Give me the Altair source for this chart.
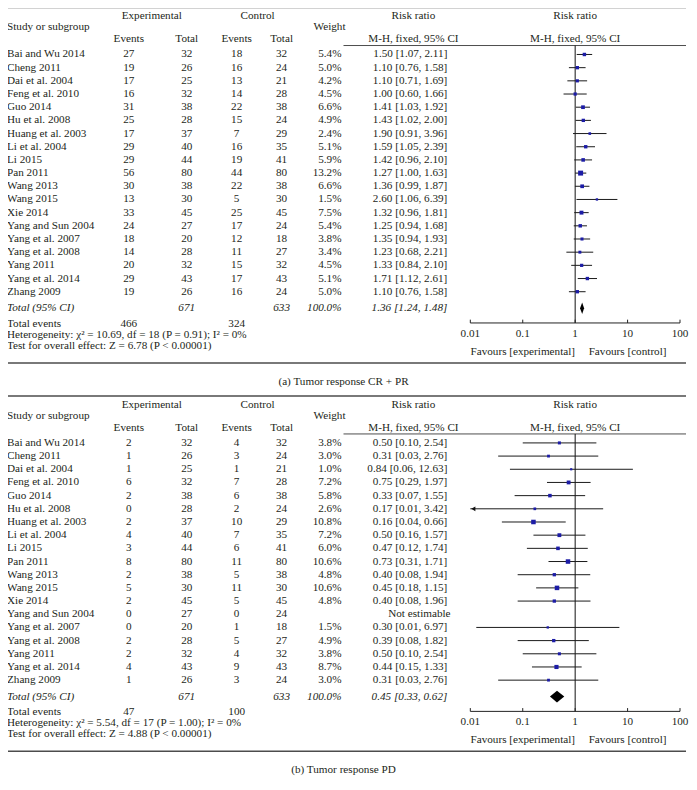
import altair as alt
import pandas as pd

# ---------------- data ----------------
studies = ["Bai and Wu 2014", "Cheng 2011", "Dai et al. 2004", "Feng et al. 2010", "Guo 2014",
           "Hu et al. 2008", "Huang et al. 2003", "Li et al. 2004", "Li 2015", "Pan 2011",
           "Wang 2013", "Wang 2015", "Xie 2014", "Yang and Sun 2004", "Yang et al. 2007",
           "Yang et al. 2008", "Yang 2011", "Yang et al. 2014", "Zhang 2009"]
exp_total = [32, 26, 25, 32, 38, 28, 37, 40, 44, 80, 38, 30, 45, 27, 20, 28, 32, 43, 26]
ctl_total = [32, 24, 21, 28, 38, 24, 29, 35, 41, 80, 38, 30, 45, 24, 18, 27, 32, 43, 24]

# (a) Tumor response CR + PR
exp_events_a = [27, 19, 17, 16, 31, 25, 17, 29, 29, 56, 30, 13, 33, 24, 18, 14, 20, 29, 19]
ctl_events_a = [18, 16, 13, 14, 22, 15, 7, 16, 19, 44, 22, 5, 25, 17, 12, 11, 15, 17, 16]
weight_a = [5.4, 5.0, 4.2, 4.5, 6.6, 4.9, 2.4, 5.1, 5.9, 13.2, 6.6, 1.5, 7.5, 5.4, 3.8, 3.4, 4.5, 5.1, 5.0]
rr_a = [1.50, 1.10, 1.10, 1.00, 1.41, 1.43, 1.90, 1.59, 1.42, 1.27, 1.36, 2.60, 1.32, 1.25, 1.35, 1.23, 1.33, 1.71, 1.10]
lo_a = [1.07, 0.76, 0.71, 0.60, 1.03, 1.02, 0.91, 1.05, 0.96, 1.00, 0.99, 1.06, 0.96, 0.94, 0.94, 0.68, 0.84, 1.12, 0.76]
hi_a = [2.11, 1.58, 1.69, 1.66, 1.92, 2.00, 3.96, 2.39, 2.10, 1.63, 1.87, 6.39, 1.81, 1.68, 1.93, 2.21, 2.10, 2.61, 1.58]
total_a = dict(rr=1.36, lo=1.24, hi=1.48, n_exp=671, n_ctl=633, ev_exp=466, ev_ctl=324)
het_a = "Heterogeneity: χ² = 10.69, df = 18 (P = 0.91); I² = 0%"
test_a = "Test for overall effect: Z = 6.78 (P < 0.00001)"
caption_a = "(a) Tumor response CR + PR"

# (b) Tumor response PD
exp_events_b = [2, 1, 1, 6, 2, 0, 2, 4, 3, 8, 2, 5, 2, 0, 0, 2, 2, 4, 1]
ctl_events_b = [4, 3, 1, 7, 6, 2, 10, 7, 6, 11, 5, 11, 5, 0, 1, 5, 4, 9, 3]
weight_b = [3.8, 3.0, 1.0, 7.2, 5.8, 2.6, 10.8, 7.2, 6.0, 10.6, 4.8, 10.6, 4.8, None, 1.5, 4.9, 3.8, 8.7, 3.0]
rr_b = [0.50, 0.31, 0.84, 0.75, 0.33, 0.17, 0.16, 0.50, 0.47, 0.73, 0.40, 0.45, 0.40, None, 0.30, 0.39, 0.50, 0.44, 0.31]
lo_b = [0.10, 0.034, 0.057, 0.29, 0.07, 0.0087, 0.04, 0.16, 0.12, 0.31, 0.08, 0.18, 0.08, None, 0.013, 0.08, 0.10, 0.15, 0.034]
hi_b = [2.54, 2.76, 12.63, 1.97, 1.55, 3.42, 0.66, 1.57, 1.74, 1.71, 1.94, 1.15, 1.96, None, 6.97, 1.82, 2.54, 1.33, 2.76]
total_b = dict(rr=0.45, lo=0.33, hi=0.62, n_exp=671, n_ctl=633, ev_exp=47, ev_ctl=100)
het_b = "Heterogeneity: χ² = 5.54, df = 17 (P = 1.00); I² = 0%"
test_b = "Test for overall effect: Z = 4.88 (P < 0.00001)"
caption_b = "(b) Tumor response PD"

axis_ticks = [0.01, 0.1, 1, 10, 100]

# ---------------- style / layout ----------------
FONT = "Liberation Serif"
FS = 11.2
TXT = "#231f20"
BLUE = "#1c1ca6"
W, H = 680, 380
yscale = alt.Scale(domain=[-3.56, 25.23], reverse=True, nice=False, zero=False)
xscale = alt.Scale(type="log", domain=[0.01, 100], range=[464, 674], nice=False)

R = dict(top=-3.56, hdr1=-2.9, hdr2=-2.05, hdr3=-1.14, hline=-0.68, total=19.25,
         tot_ev=20.45, het=21.28, test=22.12, axis=20.37, ticklab=21.2, fav=22.57,
         bottom=23.4, caption=24.82)
COL = dict(name=0, ev_e=122, n_e=180, ev_c=230, n_c=275, weight=335, exp_hdr=145,
           ctl_hdr=251, weight_hdr=323, rr_txt=441, rr_hdr=407, caption=337)


def Y(field="row"):
    return alt.Y(f"{field}:Q", scale=yscale, axis=None)


def X(field):
    return alt.X(f"{field}:Q", scale=xscale, axis=None)


def text_layer(df, field, x, align="center", italic=False):
    return alt.Chart(df).mark_text(
        align=align, baseline="middle", font=FONT, fontSize=FS, color=TXT,
        fontStyle="italic" if italic else "normal"
    ).encode(x=alt.value(x), y=Y(), text=f"{field}:N")


def label(text, row, x, align="center", italic=False):
    return text_layer(pd.DataFrame({"t": [text], "row": [row]}), "t", x, align, italic)


def hrule(row, x0, x1, width=1.0, color="#333333"):
    return alt.Chart(pd.DataFrame({"row": [row]})).mark_rule(
        color=color, strokeWidth=width).encode(x=alt.value(x0), x2=alt.value(x1), y=Y())


def fmt_rr(r, l, h):
    if r is None or pd.isna(r):
        return "Not estimable"
    return f"{r:.2f} [{l:.2f}, {h:.2f}]"


def panel(exp_ev, ctl_ev, weight, rr, lo, hi, tot, het, test, caption):
    n = len(studies)
    df = pd.DataFrame({
        "row": list(range(n)), "name": studies,
        "ev_e": [str(v) for v in exp_ev], "n_e": [str(v) for v in exp_total],
        "ev_c": [str(v) for v in ctl_ev], "n_c": [str(v) for v in ctl_total],
        "weight": ["" if w is None else f"{w:.1f}%" for w in weight],
        "rrtxt": [fmt_rr(r, l, h) for r, l, h in zip(rr, lo, hi)],
        "w": weight, "rr": rr, "lo": lo, "hi": hi,
    })
    est = df.dropna(subset=["rr"]).copy()
    est["w"] = est["w"].astype(float)
    est["lo_draw"] = est["lo"].clip(lower=axis_ticks[0])
    arrows = est[est["lo"] < axis_ticks[0]]

    layers = []
    # rules of the table
    layers.append(hrule(R["top"], 0, W, 1.5, "#4d4d4d"))
    layers.append(hrule(R["hline"], 337, W, 1.0, "#4d4d4d"))
    layers.append(hrule(R["bottom"], 0, W, 1.5, "#4d4d4d"))
    # headers
    layers += [
        label("Experimental", R["hdr1"], COL["exp_hdr"]),
        label("Control", R["hdr1"], COL["ctl_hdr"]),
        label("Risk ratio", R["hdr1"], COL["rr_hdr"]),
        label("Study or subgroup", R["hdr2"], COL["name"], "left"),
        label("Weight", R["hdr2"], COL["weight_hdr"]),
        label("Events", R["hdr3"], COL["ev_e"]),
        label("Total", R["hdr3"], COL["n_e"]),
        label("Events", R["hdr3"], COL["ev_c"]),
        label("Total", R["hdr3"], COL["n_c"]),
        label("M-H, fixed, 95% CI", R["hdr3"], COL["rr_hdr"]),
    ]
    hdr_f = pd.DataFrame({"v": [1, 1], "row": [R["hdr1"], R["hdr3"]],
                          "t": ["Risk ratio", "M-H, fixed, 95% CI"]})
    layers.append(alt.Chart(hdr_f).mark_text(baseline="middle", font=FONT, fontSize=FS, color=TXT)
                  .encode(x=X("v"), y=Y(), text="t:N"))
    # study rows
    layers += [
        text_layer(df, "name", COL["name"], "left"),
        text_layer(df, "ev_e", COL["ev_e"]),
        text_layer(df, "n_e", COL["n_e"]),
        text_layer(df, "ev_c", COL["ev_c"]),
        text_layer(df, "n_c", COL["n_c"]),
        text_layer(df, "weight", COL["weight"], "right"),
    ]
    num = df[df["rr"].notna()]
    nonest = df[df["rr"].isna()]
    layers.append(text_layer(num, "rrtxt", COL["rr_txt"], "right"))
    if len(nonest):
        layers.append(text_layer(nonest, "rrtxt", COL["rr_hdr"] + 6, "center"))
    # total rows
    layers += [
        label("Total (95% CI)", R["total"], COL["name"], "left", True),
        label(str(tot["n_exp"]), R["total"], COL["n_e"], "center", True),
        label(str(tot["n_ctl"]), R["total"], COL["n_c"], "center", True),
        label("100.0%", R["total"], COL["weight"], "right", True),
        label(fmt_rr(tot["rr"], tot["lo"], tot["hi"]), R["total"], COL["rr_txt"], "right", True),
        label("Total events", R["tot_ev"], COL["name"], "left"),
        label(str(tot["ev_exp"]), R["tot_ev"], COL["ev_e"]),
        label(str(tot["ev_ctl"]), R["tot_ev"], COL["ev_c"]),
        label(het, R["het"], COL["name"], "left"),
        label(test, R["test"], COL["name"], "left"),
        label(caption, R["caption"], COL["caption"]),
    ]
    # forest plot: reference line at 1
    layers.append(alt.Chart(pd.DataFrame({"v": [1], "row": [R["hline"]], "row2": [R["axis"]]}))
                  .mark_rule(color="#111111", strokeWidth=1)
                  .encode(x=X("v"), y=Y(), y2="row2:Q"))
    # confidence intervals
    layers.append(alt.Chart(est).mark_rule(color="#1a1a1a", strokeWidth=1)
                  .encode(x=X("lo_draw"), x2="hi:Q", y=Y()))
    if len(arrows):
        layers.append(alt.Chart(arrows).mark_point(shape="triangle-left", filled=True, size=22,
                                                  color="#111111", opacity=1, xOffset=3)
                      .encode(x=X("lo_draw"), y=Y()))
    # weighted squares
    layers.append(alt.Chart(est).mark_square(filled=True, color=BLUE, opacity=1)
                  .encode(x=X("rr"), y=Y(),
                          size=alt.Size("w:Q", scale=alt.Scale(domain=[0, 14], range=[3, 26]),
                                        legend=None)))
    # pooled diamond
    dia = pd.DataFrame({"v": [tot["lo"], tot["rr"], tot["hi"]],
                        "row": [R["total"], R["total"] - 0.44, R["total"]],
                        "row2": [R["total"], R["total"] + 0.44, R["total"]]})
    layers.append(alt.Chart(dia).mark_area(color="black", orient="vertical", opacity=1)
                  .encode(x=X("v"), y=Y(), y2="row2:Q"))
    # axis
    ax = pd.DataFrame({"v": [axis_ticks[0]], "v2": [axis_ticks[-1]], "row": [R["axis"]]})
    layers.append(alt.Chart(ax).mark_rule(color="#222222", strokeWidth=1)
                  .encode(x=X("v"), x2="v2:Q", y=Y()))
    tk = pd.DataFrame({"v": axis_ticks, "row": [R["axis"]] * len(axis_ticks),
                       "row2": [R["axis"] - 0.25] * len(axis_ticks),
                       "lab": [f"{t:g}" for t in axis_ticks],
                       "lrow": [R["ticklab"]] * len(axis_ticks)})
    layers.append(alt.Chart(tk).mark_rule(color="#222222", strokeWidth=1)
                  .encode(x=X("v"), y=Y(), y2="row2:Q"))
    layers.append(alt.Chart(tk).mark_text(baseline="middle", font=FONT, fontSize=FS, color=TXT)
                  .encode(x=X("v"), y=Y("lrow"), text="lab:N"))
    fav = pd.DataFrame({"v": [0.1, 10], "row": [R["fav"]] * 2,
                        "t": ["Favours [experimental]", "Favours [control]"]})
    layers.append(alt.Chart(fav).mark_text(baseline="middle", font=FONT, fontSize=FS, color=TXT)
                  .encode(x=X("v"), y=Y(), text="t:N"))

    return alt.layer(*layers).properties(width=W, height=H)


pa = panel(exp_events_a, ctl_events_a, weight_a, rr_a, lo_a, hi_a, total_a, het_a, test_a, caption_a)
pb = panel(exp_events_b, ctl_events_b, weight_b, rr_b, lo_b, hi_b, total_b, het_b, test_b, caption_b)

chart = alt.vconcat(pa, pb, spacing=8).properties(
    padding={"left": -2, "top": -2, "right": 0, "bottom": 0}, background="white"
).configure_view(strokeWidth=0)

chart.save("out.html", embed_options={"renderer": "svg", "actions": False})
